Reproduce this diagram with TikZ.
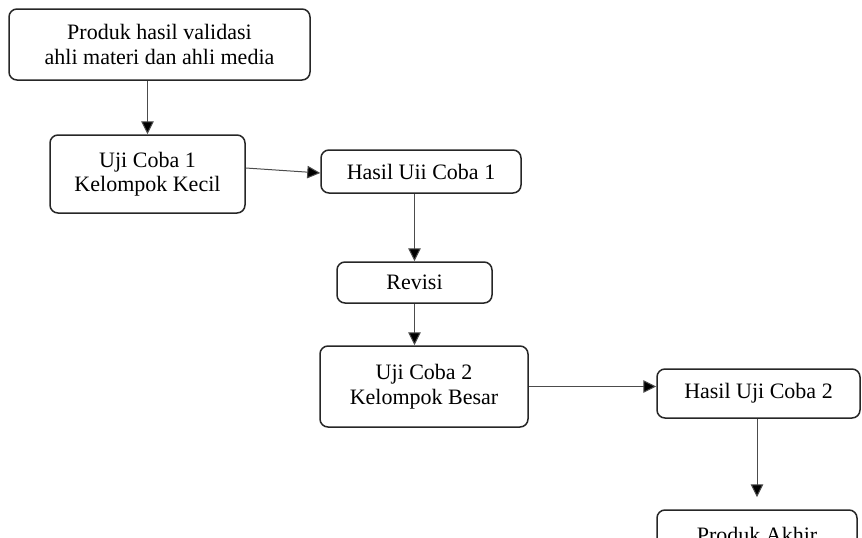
\documentclass[tikz,border=0pt]{standalone}
\usepackage{fontspec}
\setmainfont{Liberation Serif}
\usetikzlibrary{arrows.meta}
\begin{document}
\begin{tikzpicture}[x=1pt,y=-1pt,
  boxstyle/.style={draw=black!85, line width=1.5pt, rounded corners=8pt, inner sep=0pt, align=center,
    font=\fontsize{22}{24.5}\selectfont},
  conn/.style={draw=black!70, line width=1pt, -{Triangle[width=12.5pt,length=13pt,fill=black]}}]
\useasboundingbox (0,0) rectangle (862,538);
\clip (0,0) rectangle (862,538);
\node[boxstyle, minimum width=301pt, minimum height=71pt] (b1) at (159.5,44.5) {Produk hasil validasi\\ahli materi dan ahli media};
\node[boxstyle, minimum width=195pt, minimum height=78pt] (b2) at (147.5,174) {Uji Coba 1\\Kelompok Kecil};
\node[boxstyle, minimum width=200pt, minimum height=43pt] (b3) at (421,171.5) {Hasil Uii Coba 1};
\node[boxstyle, minimum width=155pt, minimum height=41pt] (rev) at (414.5,282.5) {\raisebox{-5pt}{Revisi}};
\node[boxstyle, minimum width=208pt, minimum height=81pt] (b4) at (424,386.5) {Uji Coba 2\\Kelompok Besar};
\node[boxstyle, minimum width=203pt, minimum height=49pt] (b5) at (758.5,393.5) {Hasil Uji Coba 2};
\node[boxstyle, minimum width=200pt, minimum height=50pt] (b6) at (757,535) {Produk Akhir};
\draw[conn] (b2.north |- b1.south) -- (b2.north);
\draw[conn] ([yshift=6pt]b2.east) -- ([yshift=-1.5pt]b3.west);
\draw[conn] (rev.north |- b3.south) -- (rev.north);
\draw[conn] (rev.south) -- (rev.south |- b4.north);
\draw[conn] (b4.east) -- (b4.east -| b5.west);
\coordinate (endtip) at ([yshift=12pt]b6.north);
\draw[conn] (b5.south -| endtip) -- (endtip);
\end{tikzpicture}
\end{document}
